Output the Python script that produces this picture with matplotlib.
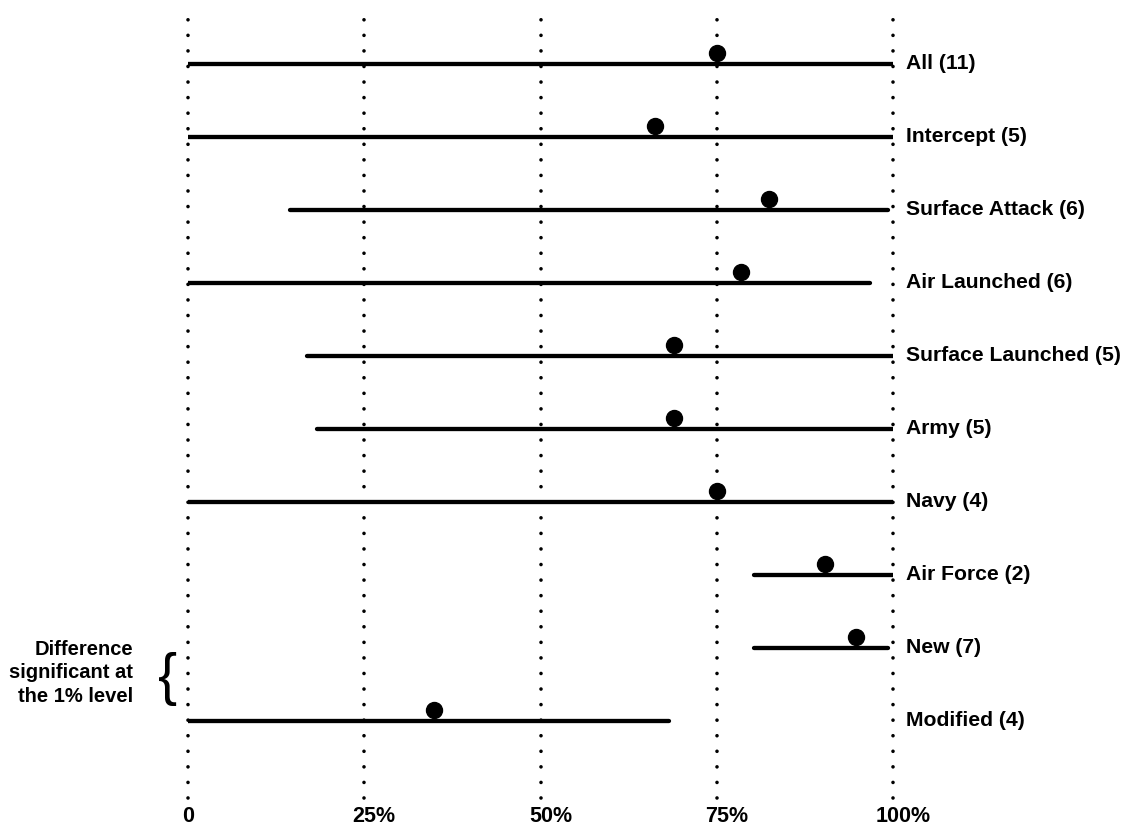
import matplotlib
matplotlib.use("Agg")
import matplotlib.pyplot as plt
import matplotlib.transforms as mtransforms
import numpy as np

# ---- data (percent) ----
labels = ["All (11)", "Intercept (5)", "Surface Attack (6)", "Air Launched (6)",
          "Surface Launched (5)", "Army (5)", "Navy (4)", "Air Force (2)",
          "New (7)", "Modified (4)"]
point = [75.0, 66.3, 82.4, 78.4, 69.0, 69.0, 75.0, 90.4, 94.7, 34.9]
low = [0, 0, 14.5, 0, 16.9, 18.3, 0, 80.3, 80.3, 0]
high = [100, 100, 99.3, 96.8, 100, 100, 100, 100, 99.3, 68.2]
xticks = [0, 25, 50, 75, 100]
xticklabels = ["0", "25%", "50%", "75%", "100%"]
note = "Difference\nsignificant at\nthe 1% level"

plt.rcParams.update({"font.family": ["Liberation Sans", "DejaVu Sans"],
                     "font.weight": "bold", "font.size": 15})

W, H = 1121, 826
fig = plt.figure(figsize=(W / 100, H / 100), dpi=100, facecolor="white")
ax = fig.add_axes([188 / W, 1 - 798 / H, 705 / W, 788 / H])

rows = np.arange(len(labels))
ax.set_xlim(0, 100)
ax.set_ylim(10.06, -0.736)

# dotted vertical reference lines
for x in xticks:
    ax.axvline(x, color="black", lw=2.6, ls=(0, (0.01, 4.3)),
               dash_capstyle="round", clip_on=False, zorder=1)

# ranges
ax.hlines(rows, low, high, color="black", lw=3.1, capstyle="round", zorder=2)

# points sit just on top of each range line
up = mtransforms.offset_copy(ax.transData, fig=fig, x=0, y=7.5, units="points")
ax.plot(point, rows, "o", color="black", ms=11.5, transform=up, zorder=3,
        clip_on=False)

for y, lab in zip(rows, labels):
    ax.annotate(lab, xy=(100, y), xytext=(9, 0), textcoords="offset points",
                ha="left", va="center", fontsize=15.2, fontweight="bold")

for s in ax.spines.values():
    s.set_visible(False)
ax.set_yticks([])
ax.set_xticks(xticks)
ax.set_xticklabels(xticklabels, fontsize=15.5, fontweight="bold")
ax.tick_params(axis="x", length=0, pad=6)
# centre the number (not the % sign) under each line
shift = mtransforms.ScaledTranslation(10 / 100, 0, fig.dpi_scale_trans)
for t in ax.get_xticklabels()[1:]:
    t.set_transform(t.get_transform() + shift)

fig.text(133 / W, 1 - 673 / H, note, ha="right", va="center", ma="right",
         fontsize=14.5, fontweight="bold", linespacing=1.3)
fig.text(168 / W, 1 - 679 / H, "{", ha="center", va="center", fontsize=41,
         fontweight="normal", family="Liberation Sans")

fig.savefig("out.png", dpi=100, facecolor="white")
